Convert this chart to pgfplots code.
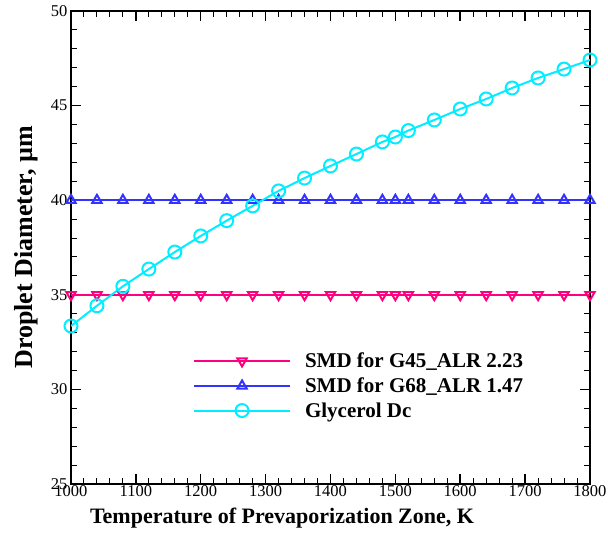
\documentclass[border=0pt]{standalone}
\usepackage{pgfplots}
\pgfplotsset{compat=1.18}
\usepackage{fontspec}
\setmainfont{Liberation Serif}
\definecolor{cred}{RGB}{255,0,128}
\definecolor{cblue}{RGB}{51,51,255}
\definecolor{ccyan}{RGB}{0,238,255}
\pgfplotstableread{
x y
1000 35
1040 35
1080 35
1120 35
1160 35
1200 35
1240 35
1280 35
1320 35
1360 35
1400 35
1440 35
1480 35
1500 35
1520 35
1560 35
1600 35
1640 35
1680 35
1720 35
1760 35
1800 35
}\smdA
\pgfplotstableread{
x y
1000 40
1040 40
1080 40
1120 40
1160 40
1200 40
1240 40
1280 40
1320 40
1360 40
1400 40
1440 40
1480 40
1500 40
1520 40
1560 40
1600 40
1640 40
1680 40
1720 40
1760 40
1800 40
}\smdB
\pgfplotstableread{
x y
1000 33.35
1040 34.42
1080 35.45
1120 36.36
1160 37.26
1200 38.11
1240 38.92
1280 39.70
1320 40.49
1360 41.17
1400 41.81
1440 42.44
1480 43.08
1500 43.34
1520 43.68
1560 44.24
1600 44.82
1640 45.35
1680 45.93
1720 46.46
1760 46.93
1800 47.41
}\glyc
\begin{document}
\begin{tikzpicture}
\path[use as bounding box] (-71pt,-49pt) rectangle (537pt,484pt);
\begin{axis}[
  at={(0,0)}, anchor=south west,
  scale only axis, width=519pt, height=473pt,
  xmin=1000, xmax=1800, ymin=25, ymax=50,
  xtick={1000,1100,...,1800}, ytick={25,30,...,50},
  minor x tick num=4, minor y tick num=4,
  tick align=inside,
  major tick length=10pt, minor tick length=6pt,
  every major tick/.style={line width=1.5pt, black},
  every minor tick/.style={line width=1pt, black},
  axis line style={line width=2.5pt},
  /pgf/number format/assume math mode=true,
  /pgf/number format/1000 sep={},
  ticklabel style={font=\fontsize{16.5}{18}\selectfont},
  xticklabel style={yshift=2pt},
  xlabel={\textbf{Temperature of Prevaporization Zone, K}},
  ylabel={\textbf{Droplet Diameter, µm}},
  xlabel style={font=\fontsize{22}{24}\selectfont, at={(axis description cs:0.4066,-0.0845)}, anchor=base},
  ylabel style={font=\fontsize{26}{28}\selectfont, at={(axis description cs:-0.075,0.5)}, anchor=base, rotate=0},
  legend image code/.code={\draw[mark repeat=2,mark phase=2,#1] plot coordinates {(0pt,0pt) (48pt,0pt) (96pt,0pt)}; \path (108pt,0pt);},
  legend image post style={line width=2pt},
  legend style={draw=none, fill=none, at={(rel axis cs:0.229,0.286)}, anchor=north west,
    font=\fontsize{21}{25}\selectfont\bfseries, row sep=4.5pt, cells={anchor=west}},
  legend cell align=left,
]
\addplot[cred, line width=2pt, mark=triangle, mark size=5.4pt, mark options={rotate=180, line width=2pt}] table {\smdA};
\addlegendentry{SMD for G45\_ALR 2.23}
\addplot[cblue, line width=2pt, mark=triangle, mark size=5.4pt, mark options={line width=2pt}] table {\smdB};
\addlegendentry{SMD for G68\_ALR 1.47}
\addplot[ccyan, line width=2pt, mark=o, mark size=6.5pt, mark options={line width=2pt}] table {\glyc};
\addlegendentry{Glycerol Dc}
\end{axis}
\end{tikzpicture}
\end{document}
